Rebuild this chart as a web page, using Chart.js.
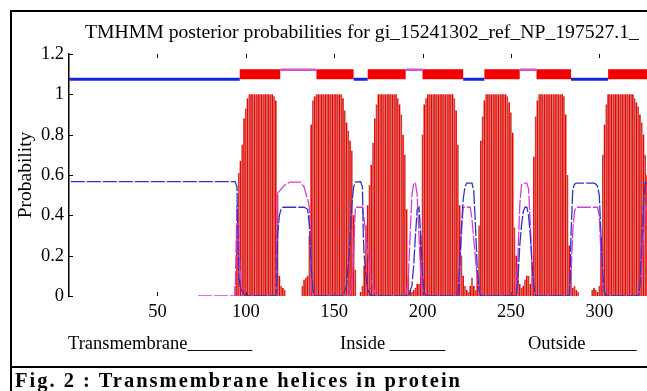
<!DOCTYPE html>
<html><head><meta charset="utf-8">
<script src="https://cdn.jsdelivr.net/npm/chart.js@4.4.0/dist/chart.umd.min.js"></script>
<style>
html,body{margin:0;padding:0;background:#fff;}
#wrap{position:relative;width:647px;height:391px;overflow:hidden;background:#fff;font-family:'Liberation Serif','Times New Roman',serif;color:#000;}
#c{position:absolute;left:0;top:0;}
.t{position:absolute;white-space:nowrap;}
.ln{position:absolute;background:#000;}
</style></head><body>
<div id="wrap">
<canvas id="c" width="647" height="335"></canvas>
<div class="ln" style="left:10px;top:10px;width:2px;height:381px"></div>
<div class="ln" style="left:10px;top:10px;width:637px;height:2px"></div>
<div class="ln" style="left:10px;top:366px;width:637px;height:2px"></div>
<div class="t" style="left:85px;top:22px;font-size:19.7px;line-height:19.7px">TMHMM posterior probabilities for gi_15241302_ref_NP_197527.1_</div>
<div class="t" style="left:25px;top:175px;font-size:19.5px;line-height:19.5px;transform:translate(-50%,-50%) rotate(-90deg)">Probability</div>
<div class="t" style="left:68px;top:334px;font-size:18.5px;line-height:18.5px">Transmembrane_______</div>
<div class="t" style="left:340px;top:334px;font-size:18.5px;line-height:18.5px">Inside ______</div>
<div class="t" style="left:528px;top:334px;font-size:18.5px;line-height:18.5px">Outside _____</div>
<div class="t" style="left:15px;top:370px;font-size:20.5px;line-height:20.5px;font-weight:bold;letter-spacing:2px">Fig. 2 : Transmembrane helices in protein</div>
</div>
<script>
// TM helix posterior probability per residue (residue 1..327)
const tmProb = [
0,0,0,0,0,0,0,0,0,0,
0,0,0,0,0,0,0,0,0,0,
0,0,0,0,0,0,0,0,0,0,
0,0,0,0,0,0,0,0,0,0,
0,0,0,0,0,0,0,0,0,0,
0,0,0,0,0,0,0,0,0,0,
0,0,0,0,0,0,0,0,0,0,
0,0,0,0,0,0,0,0,0,0,
0,0,0,0,0,0,0,0,0,0,
0,0,0,0.05,0.3,0.61,0.67,0.75,0.88,0.93,
0.98,1,1,1,1,1,1,1,1,1,
1,1,1,1,1,0.99,0.97,0.5,0.1,0.05,
0.04,0.03,0,0,0,0,0,0,0,0,
0,0.05,0.08,0.09,0.1,0.3,0.85,0.97,0.99,1,
1,1,1,1,1,1,1,1,1,1,
1,1,1,1,0.98,0.92,0.86,0.82,0.77,0.72,
0.4,0.13,0,0,0.02,0.05,0.15,0.35,0.45,0.55,
0.65,0.76,0.88,0.95,1,1,1,1,1,1,
1,1,1,1,1,0.98,0.95,0.9,0.8,0.7,
0.43,0.1,0.03,0.02,0.03,0.04,0.06,0.06,0.3,0.8,
0.95,0.98,1,1,1,1,1,1,1,1,
1,1,1,1,1,1,1,0.98,0.92,0.75,
0.45,0.2,0.1,0.05,0.03,0.02,0.05,0.09,0.05,0.03,
0.1,0.35,0.77,0.89,0.97,1,1,1,1,1,
1,1,1,1,1,1,1,0.99,0.96,0.91,
0.81,0.34,0.2,0.12,0.06,0.04,0.05,0.08,0.1,0.1,
0.06,0.15,0.69,0.89,0.97,1,1,1,1,1,
1,1,1,1,1,1,1,1,1,0.99,
0.9,0.6,0.25,0.13,0.04,0.05,0.03,0.02,0,0,
0,0,0,0,0,0.03,0.04,0.03,0.02,0.05,
0.3,0.7,0.85,0.95,1,1,1,1,1,1,
1,1,1,1,1,1,1,1,1,0.98,
0.96,0.94,0.9,0.86,0.8,0.7,0.6
];
// Inside probability (blue) breakpoints
const insideX = [1,94,95,96,97,99,100,117,117.5,118,119,120,121,133,135,136,137,138,139,155,157,158,159,160,161,162,165,166,166.5,167,168,169,171,192,194,195,196,197,198,199,200,201,202,220,221,222,223,224,225,228,229,230,231,232,233,253,254,255,256,257,258,259,260,261,262,263,264,283,283.5,284,285,286,287,297,298,299,300,301,302,303,304,322,323,324,325,326,327];
const insideY = [0.567,0.567,0.54,0.1,0.04,0.01,0,0,0.05,0.3,0.4,0.43,0.44,0.44,0.43,0.35,0.15,0.03,0,0,0.05,0.15,0.28,0.45,0.54,0.565,0.567,0.54,0.3,0.2,0.1,0.03,0,0,0.05,0.15,0.3,0.43,0.44,0.3,0.1,0.02,0,0,0.15,0.34,0.48,0.54,0.56,0.56,0.52,0.34,0.13,0.03,0,0,0.08,0.25,0.35,0.42,0.44,0.44,0.4,0.3,0.15,0.05,0,0,0.1,0.3,0.53,0.555,0.56,0.56,0.555,0.545,0.5,0.3,0.1,0.02,0,0,0.05,0.25,0.45,0.56,0.56];
// Outside probability (magenta) breakpoints
const outsideX = [73,94,95,96,97,98,99,117,118,120,122,125,131,133,135,136,136.8,137.5,138,159,160,161,162,166,167,168,169,170,171,172,174,190,191,192,193,194,195,196,197,198,199,200,201,220,221,222,223,227,228,229,230,231,232,234,252,253,254,255,256,257,259,260,261,262,263,264,283,284,285,286,287,299,300,301,302,303,304,322,323,324,325,326,327];
const outsideY = [0,0,0.45,0.25,0.1,0.02,0,0,0.51,0.53,0.55,0.565,0.565,0.54,0.48,0.44,0.2,0.02,0,0,0.05,0.2,0.44,0.44,0.38,0.3,0.22,0.15,0.08,0.04,0,0,0.02,0.1,0.3,0.5,0.56,0.56,0.5,0.3,0.1,0.02,0,0,0.1,0.3,0.44,0.44,0.38,0.28,0.18,0.08,0.03,0,0,0.02,0.2,0.45,0.55,0.56,0.56,0.53,0.35,0.15,0.04,0,0,0.1,0.32,0.42,0.44,0.44,0.4,0.2,0.06,0.01,0,0,0.05,0.15,0.3,0.44,0.44];
// Top track: predicted topology segments [start, end]
const topTM = [[96.6,119.5],[140,161],[169,190.5],[200,223],[235,255],[264.5,284],[305,327]];
const topInside = [[0,96.6],[161,169],[223,235],[284,305]];
const topOutside = [[119.5,140],[190.5,200],[255,264.5],[327,330]];
const trackLevel = {tm:1.1, inside:1.075, outside:1.122};
const xTicks = {min:0, max:327, step:50};
const yTicks = {min:0, max:1.2, step:0.2};

function segs(list, y){
  const out=[];
  list.forEach(s=>{out.push({x:s[0],y:y});out.push({x:s[1],y:y});out.push({x:s[1],y:null});});
  return out;
}
const RED='rgb(245,0,0)', DARK='rgb(200,60,50)';
const inwardTicks = {
  id:'inwardTicks',
  beforeDatasetsDraw(chart){
    const {ctx, chartArea:a, scales:{x,y}} = chart;
    ctx.save(); ctx.strokeStyle='#000'; ctx.lineWidth=1; ctx.beginPath();
    y.ticks.forEach(t=>{const py=Math.round(y.getPixelForValue(t.value))+0.5; ctx.moveTo(a.left,py); ctx.lineTo(a.left+4,py);});
    x.ticks.forEach(t=>{ if(t.value===0) return; const px=Math.round(x.getPixelForValue(t.value))+0.5;
      ctx.moveTo(px,a.top); ctx.lineTo(px,a.top+4); ctx.moveTo(px,a.bottom); ctx.lineTo(px,a.bottom-4);});
    ctx.stroke(); ctx.restore();
  }
};
const font={family:"'Liberation Serif','Times New Roman',serif", size:18.5};
new Chart(document.getElementById('c'), {
  type:'bar',
  data:{datasets:[
    {type:'line', data:segs(topTM, trackLevel.tm), borderColor:RED, borderWidth:10, borderCapStyle:'butt', pointRadius:0, spanGaps:false, order:0},
    {type:'line', data:segs(topInside, trackLevel.inside), borderColor:'rgb(20,40,215)', borderWidth:3, borderCapStyle:'butt', pointRadius:0, spanGaps:false, order:1},
    {type:'line', data:segs(topOutside, trackLevel.outside), borderColor:'rgb(215,80,215)', borderWidth:2.5, borderCapStyle:'butt', pointRadius:0, spanGaps:false, order:1},
    {type:'line', data:insideX.map((x,i)=>({x:x,y:insideY[i]})), borderColor:'rgb(50,50,200)', borderWidth:1.3, borderDash:[14,2], pointRadius:0, tension:0, order:2},
    {type:'line', data:outsideX.map((x,i)=>({x:x,y:outsideY[i]})), borderColor:'rgb(215,60,215)', borderWidth:1.3, borderDash:[14,2], pointRadius:0, tension:0, order:2},
    {type:'bar', data:tmProb.map((v,i)=>({x:i+1,y:v})), backgroundColor:tmProb.map((v,i)=>i%2?DARK:RED), borderWidth:0, barPercentage:0.9, categoryPercentage:1, order:5}
  ]},
  options:{
    responsive:false, animation:false, devicePixelRatio:1,
    layout:{padding:{top:54,left:0,right:0,bottom:0}},
    plugins:{legend:{display:false}, tooltip:{enabled:false}, title:{display:false}},
    scales:{
      x:{type:'linear', min:xTicks.min, max:xTicks.max, offset:false,
        grid:{display:false, drawTicks:false}, border:{display:false},
        ticks:{stepSize:xTicks.step, includeBounds:false, autoSkip:false, maxRotation:0, padding:5, color:'#000', font:font,
          callback:v=> v===0 ? '' : v},
        afterFit:s=>{s.height=39;}},
      y:{min:yTicks.min, max:yTicks.max,
        grid:{display:false, drawTicks:false}, border:{display:true, color:'#000', width:1.5},
        ticks:{stepSize:yTicks.step, padding:5, color:'#000', font:font,
          callback:v=> String(Math.round(v*10)/10)},
        afterFit:s=>{s.width=69;}}
    }
  },
  plugins:[inwardTicks]
});
</script>
</body></html>
